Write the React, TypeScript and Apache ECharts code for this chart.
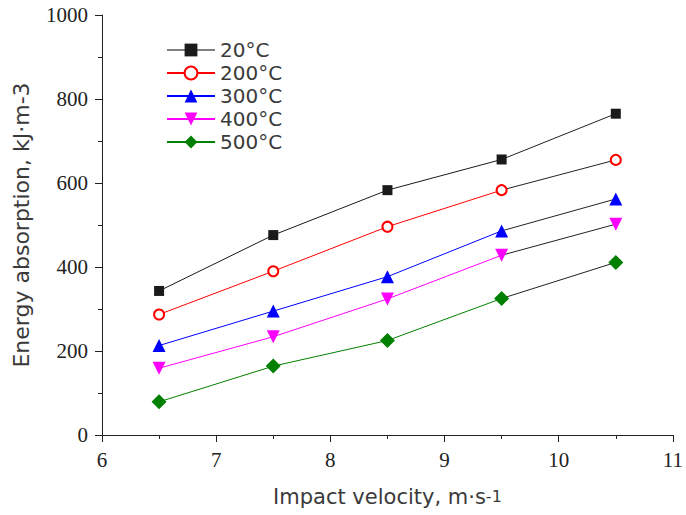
import React, { useEffect, useRef } from "react";
import * as echarts from "echarts";

const velocities = [6.5, 7.5, 8.5, 9.5, 10.5];
const seriesNames = ["20°C", "200°C", "300°C", "400°C", "500°C"];
const e20 = [343, 476, 583, 656, 765];
const e200 = [287, 390, 496, 583, 655];
const e300 = [213, 295, 377, 486, 562];
const e400 = [159, 234, 324, 428, 502];
const e500 = [79, 164, 225, 325, 411];
const xTicks = [6, 7, 8, 9, 10, 11];
const yTicks = [0, 200, 400, 600, 800, 1000];

const allValues = [e20, e200, e300, e400, e500];
const colors = ["#1a1a1a", "#ff0000", "#0000ff", "#ff00ff", "#008000"];
const symbols = ["rect", "emptyCircle", "triangle", "triangle", "diamond"];
const rotations = [0, 0, 0, 180, 0];
const sizes = [10, 10, 13, 13, 15];

export default function App() {
  const ref = useRef<HTMLDivElement>(null);
  useEffect(() => {
    if (!ref.current) return;
    const chart = echarts.init(ref.current, null, { renderer: "svg" });
    const series: any[] = [];
    allValues.forEach((vals, i) => {
      const pts = velocities.map((v, j) => [v, vals[j]]);
      const itemStyle = {
        color: colors[i],
        borderColor: colors[i],
        borderWidth: symbols[i] === "emptyCircle" ? 1 : 0,
      };
      series.push({
        name: seriesNames[i],
        type: "line",
        data: pts.slice(0, 4),
        symbol: symbols[i],
        symbolRotate: rotations[i],
        symbolSize: sizes[i],
        showAllSymbol: true,
        lineStyle: { color: colors[i], width: 1 },
        itemStyle,
        z: 3,
      });
      series.push({
        type: "line",
        data: pts.slice(3, 5),
        symbol: "none",
        lineStyle: { color: "#222", width: 1 },
        z: 2,
        silent: true,
      });
      series.push({
        type: "line",
        data: pts.slice(4, 5),
        symbol: symbols[i],
        symbolRotate: rotations[i],
        symbolSize: sizes[i],
        showAllSymbol: true,
        lineStyle: { width: 0 },
        itemStyle,
        z: 4,
      });
    });

    chart.setOption({
      animation: false,
      backgroundColor: "#ffffff",
      grid: { left: 102, right: 11, top: 15, bottom: 80, containLabel: false },
      legend: {
        data: seriesNames.map((n, i) =>
          i === 0 ? { name: n, lineStyle: { color: "#808080" } } : { name: n }
        ),
        orient: "vertical",
        left: 161,
        top: 34,
        itemWidth: 48,
        itemHeight: 16,
        itemGap: 1,
        textStyle: {
          fontFamily: "DejaVu Sans",
          fontSize: 20,
          color: "#3a3a3a",
          lineHeight: 22,
        },
      },
      xAxis: {
        type: "value",
        min: xTicks[0],
        max: xTicks[xTicks.length - 1],
        interval: 1,
        name: "{a|Impact velocity, m·s}{b|-1}",
        nameLocation: "middle",
        nameGap: 51,
        nameTextStyle: {
          rich: {
            a: { fontFamily: "DejaVu Sans", fontSize: 21, color: "#3a3a3a" },
            b: { fontFamily: "DejaVu Sans", fontSize: 16, color: "#3a3a3a" },
          },
        },
        axisLine: { show: true, lineStyle: { color: "#222", width: 1 } },
        axisTick: { show: true, inside: false, length: 7, lineStyle: { color: "#222" } },
        minorTick: { show: true, splitNumber: 2, length: 4, lineStyle: { color: "#222" } },
        splitLine: { show: false },
        axisLabel: {
          margin: 14,
          fontFamily: "Liberation Serif",
          fontSize: 21,
          color: "#222",
          formatter: (v: number) => String(v),
        },
      },
      yAxis: {
        type: "value",
        min: yTicks[0],
        max: yTicks[yTicks.length - 1],
        interval: 200,
        name: "{a|Energy absorption, kJ·m-3}",
        nameLocation: "middle",
        nameGap: 70,
        nameRotate: 90,
        nameTextStyle: {
          rich: {
            a: { fontFamily: "DejaVu Sans", fontSize: 22, color: "#3a3a3a" },
          },
        },
        axisLine: { show: true, lineStyle: { color: "#222", width: 1 } },
        axisTick: { show: true, inside: false, length: 7, lineStyle: { color: "#222" } },
        minorTick: { show: true, splitNumber: 2, length: 4, lineStyle: { color: "#222" } },
        splitLine: { show: false },
        axisLabel: {
          margin: 14,
          fontFamily: "Liberation Serif",
          fontSize: 21,
          color: "#222",
          formatter: (v: number) => String(v),
        },
      },
      series,
    });
    return () => chart.dispose();
  }, []);
  return (
    <div
      ref={ref}
      style={{ position: "absolute", left: 0, top: 0, width: 686, height: 515 }}
    />
  );
}
